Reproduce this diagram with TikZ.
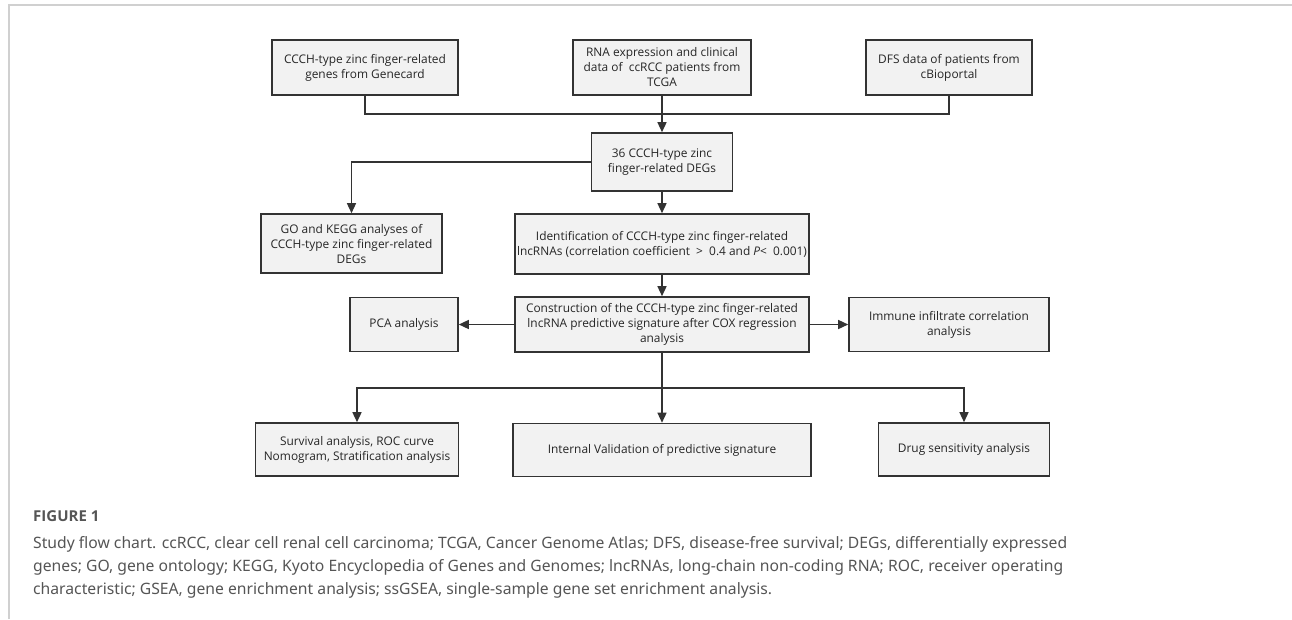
\documentclass[tikz,border=0pt]{standalone}
\usepackage{fontspec}
\setmainfont{Open Sans}
\newfontfamily\capfont{Noto Sans}
\newfontfamily\figfont{Open Sans}
\usetikzlibrary{arrows.meta}
\definecolor{boxfill}{HTML}{F2F2F2}
\definecolor{boxline}{HTML}{333333}
\definecolor{frameline}{HTML}{D0D0D0}
\definecolor{captext}{HTML}{555555}
\begin{document}
\begin{tikzpicture}[x=1pt,y=-1pt,
  flowbox/.style={draw=boxline, fill=boxfill, line width=1.6pt, align=center, inner sep=0pt,
    font=\fontsize{11.9}{15}\selectfont, text=black!85},
  conn/.style={draw=boxline, line width=1.4pt},
  arr/.style={conn, -{Triangle[width=9pt,length=10pt]}},
  captxt/.style={anchor=base west, inner sep=0pt, text=captext, font=\capfont\fontsize{15.7}{23}\selectfont}
]
\useasboundingbox (0,0) rectangle (1292,619);
% frame
\draw[frameline, line width=1.5pt] (9,619) -- (9,5) -- (1292,5);

% nodes
\node[flowbox, minimum width=186pt, minimum height=55pt] (b1) at (365,67.5) {CCCH-type zinc finger-related\\genes from Genecard};
\node[flowbox, minimum width=178pt, minimum height=55pt] (b2) at (662,67.5) {RNA expression and clinical\\data of~ ccRCC patients from\\TCGA};
\node[flowbox, minimum width=166pt, minimum height=55pt] (b3) at (949,67.5) {DFS data of patients from\\cBioportal};
\node[flowbox, minimum width=141pt, minimum height=58pt] (b4) at (662,162) {36 CCCH-type zinc\\finger-related DEGs};
\node[flowbox, minimum width=181pt, minimum height=59pt] (b5) at (351.5,243.5) {GO and KEGG analyses of\\CCCH-type zinc finger-related\\DEGs};
\node[flowbox, minimum width=294pt, minimum height=60pt] (b6) at (662,244) {Identification of CCCH-type zinc finger-related\\lncRNAs (correlation coefficient ~>~ 0.4 and \textit{P}<~ 0.001)};
\node[flowbox, minimum width=294pt, minimum height=55pt] (b7) at (662,324.5) {Construction of the CCCH-type zinc finger-related\\lncRNA predictive signature after COX regression\\analysis};
\node[flowbox, minimum width=108pt, minimum height=54pt] (b8) at (404,324.5) {PCA analysis};
\node[flowbox, minimum width=200pt, minimum height=54pt] (b9) at (949,324.5) {Immune infiltrate correlation\\analysis};
\node[flowbox, minimum width=203pt, minimum height=53pt] (b10) at (357,449.5) {Survival analysis, ROC curve\\Nomogram, Stratification analysis};
\node[flowbox, minimum width=298pt, minimum height=53pt] (b11) at (662,450) {Internal Validation of predictive signature};
\node[flowbox, minimum width=171pt, minimum height=53pt] (b12) at (964,449.5) {Drug sensitivity analysis};

% connectors
\coordinate (j1) at (662,114);
\coordinate (j2) at (662,388);
\draw[conn] (b1.south) |- (j1) -| (b3.south);
\draw[arr] (b2.south) -- (b4.north);
\draw[arr] (b4.west) -| (b5.north);
\draw[arr] (b4.south) -- (b6.north);
\draw[arr] (b6.south) -- (b7.north);
\draw[arr] (b7.west) -- (b8.east);
\draw[arr] (b7.east) -- (b9.west);
\draw[conn] (b7.south) -- (j2);
\draw[arr] (j2) -| (b10.north);
\draw[arr] (j2) -- (b11.north);
\draw[arr] (j2) -| (b12.north);

% caption
\node[captxt, font=\figfont\bfseries\fontsize{15}{18}\selectfont] (cap0) at (33,521) {FIGURE 1};
\node[captxt] (cap1) at (33,548) {Study flow chart. ccRCC, clear cell renal cell carcinoma; TCGA, Cancer Genome Atlas; DFS, disease-free survival; DEGs, differentially expressed};
\node[captxt] (cap2) at (33,571) {genes; GO, gene ontology; KEGG, Kyoto Encyclopedia of Genes and Genomes; lncRNAs, long-chain non-coding RNA; ROC, receiver operating};
\node[captxt] (cap3) at (33,594) {characteristic; GSEA, gene enrichment analysis; ssGSEA, single-sample gene set enrichment analysis.};
\end{tikzpicture}
\end{document}
